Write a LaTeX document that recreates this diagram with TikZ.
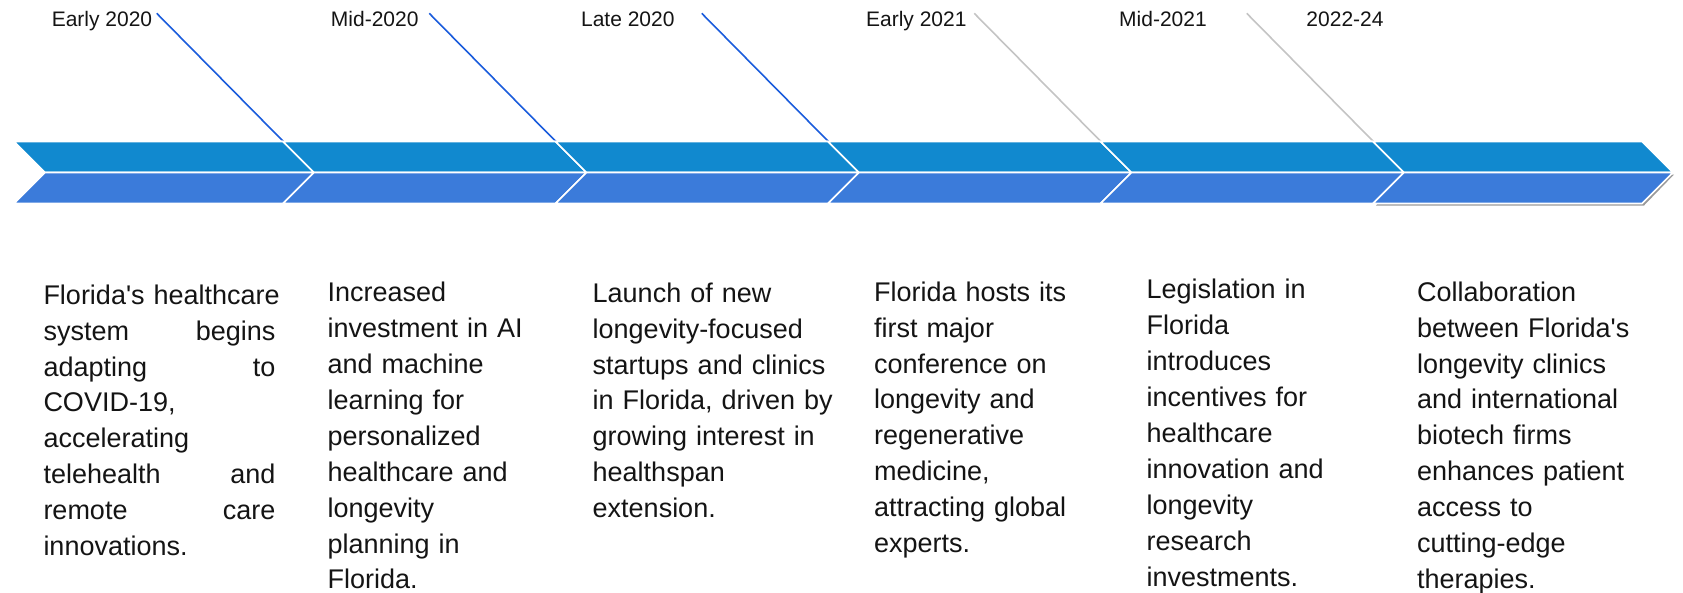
\documentclass[tikz,border=0pt]{standalone}
\usepackage{fontspec}
\setmainfont{Liberation Sans}[Ligatures=TeXOff]
\definecolor{chevtop}{RGB}{17,137,207}
\definecolor{chevbot}{RGB}{59,123,218}
\definecolor{lineblue}{RGB}{26,92,220}
\definecolor{linegrey}{RGB}{196,196,196}
\definecolor{txt}{RGB}{20,20,20}
\newcommand\jline[2]{\makebox[232pt][l]{#1\hfill #2}}
\newcommand\fstrut{\rule{0pt}{20pt}}
\begin{document}
\begin{tikzpicture}[x=1pt,y=-1pt,
  datelabel/.style={font=\fontsize{21}{25}\selectfont, text=txt, anchor=base, inner sep=0pt},
  desc/.style={font=\fontsize{27}{35.9}\selectfont, text=txt, anchor=north west, inner sep=0pt, align=left, text width=265pt},
  chev/.style={draw=white, line width=1.6pt, line join=miter},
  connblue/.style={draw=lineblue, line width=1.6pt},
  conngrey/.style={draw=linegrey, line width=1.6pt}]
\useasboundingbox (0,0) rectangle (1683,592);

% tips of the chevrons
\coordinate (t1) at (314,172.5);
\coordinate (t2) at (586.5,172.5);
\coordinate (t3) at (859,172.5);
\coordinate (t4) at (1131.5,172.5);
\coordinate (t5) at (1404,172.5);
% free ends of the connectors
\coordinate (s1) at (156.7,13.3);
\coordinate (s2) at (429.2,13.3);
\coordinate (s3) at (701.7,13.3);
\coordinate (s4) at (974.2,13.3);
\coordinate (s5) at (1246.7,13.3);

% connectors (behind the chevrons)
\draw[connblue] (s1) -- (t1);
\draw[connblue] (s2) -- (t2);
\draw[connblue] (s3) -- (t3);
\draw[conngrey] (s4) -- (t4);
\draw[conngrey] (s5) -- (t5);

% chevron 1
\fill[chevtop, chev] (14,141.5) -- (283,141.5) -- (314,172.5) -- (45,172.5) -- cycle;
\fill[chevbot, chev] (45,172.5) -- (314,172.5) -- (283,203.5) -- (14,203.5) -- cycle;
% chevrons 2-5
\foreach \n/\t in {314/586.5, 586.5/859, 859/1131.5, 1131.5/1404}{
  \fill[chevtop, chev] ({\n-31},141.5) -- ({\t-31},141.5) -- (\t,172.5) -- (\n,172.5) -- cycle;
  \fill[chevbot, chev] (\n,172.5) -- (\t,172.5) -- ({\t-31},203.5) -- ({\n-31},203.5) -- cycle;
}
% last chevron with a soft shadow
\fill[black!40] (1405,174.5) -- (1674,174.5) -- (1644,205.5) -- (1376,205.5) -- cycle;
\fill[chevtop, chev] (1373,141.5) -- (1642,141.5) -- (1673,172.5) -- (1404,172.5) -- cycle;
\fill[chevbot, chev] (1404,172.5) -- (1673,172.5) -- (1642,203.5) -- (1373,203.5) -- cycle;

% date labels
\node[datelabel] (d1) at (102,26.7) {Early 2020};
\node[datelabel] (d2) at (374.7,26.7) {Mid-2020};
\node[datelabel] (d3) at (627.8,26.7) {Late 2020};
\node[datelabel] (d4) at (916.3,26.7) {Early 2021};
\node[datelabel] (d5) at (1163,26.7) {Mid-2021};
\node[datelabel] (d6) at (1345,26.7) {2022-24};

% descriptions
\node[desc] (e1) at (43.3,284) {\fstrut Florida's healthcare\\
\jline{system}{begins}\\
\jline{adapting}{to}\\
COVID-19,\\
accelerating\\
\jline{telehealth}{and}\\
\jline{remote}{care}\\
innovations.};
\node[desc] (e2) at (327.4,281.5) {\fstrut Increased\\
investment in AI\\
and machine\\
learning for\\
personalized\\
healthcare and\\
longevity\\
planning in\\
Florida.};
\node[desc] (e3) at (592.5,282) {\fstrut Launch of new\\
longevity-focused\\
startups and clinics\\
in Florida, driven by\\
growing interest in\\
healthspan\\
extension.};
\node[desc] (e4) at (873.8,281) {\fstrut Florida hosts its\\
first major\\
conference on\\
longevity and\\
regenerative\\
medicine,\\
attracting global\\
experts.};
\node[desc] (e5) at (1146.4,278.6) {\fstrut Legislation in\\
Florida\\
introduces\\
incentives for\\
healthcare\\
innovation and\\
longevity\\
research\\
investments.};
\node[desc] (e6) at (1416.9,281) {\fstrut Collaboration\\
between Florida's\\
longevity clinics\\
and international\\
biotech firms\\
enhances patient\\
access to\\
cutting-edge\\
therapies.};
\end{tikzpicture}
\end{document}
